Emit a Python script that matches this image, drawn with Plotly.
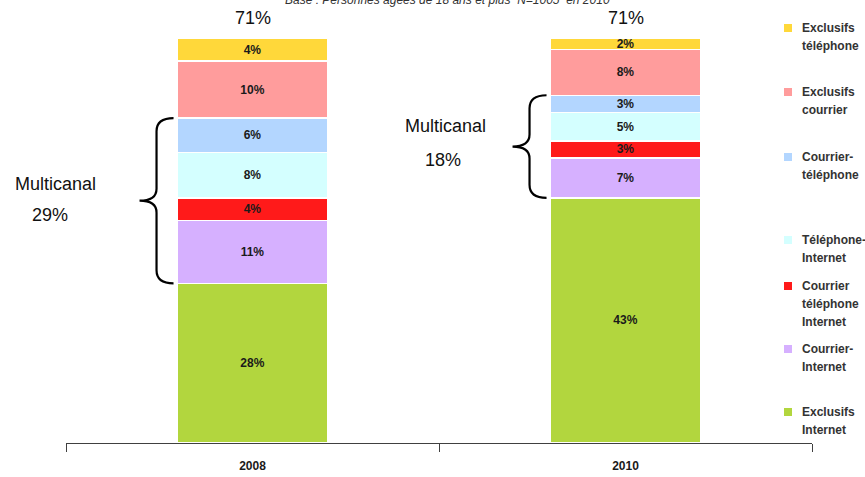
import plotly.graph_objects as go

years = ["2008", "2010"]
series_names = [
    "Exclusifs\nInternet",
    "Courrier-\nInternet",
    "Courrier\ntéléphone\nInternet",
    "Téléphone-\nInternet",
    "Courrier-\ntéléphone",
    "Exclusifs\ncourrier",
    "Exclusifs\ntéléphone",
]
exclusifs_internet = [28, 43]
courrier_internet = [11, 7]
courrier_tel_internet = [4, 3]
telephone_internet = [8, 5]
courrier_telephone = [6, 3]
exclusifs_courrier = [10, 8]
exclusifs_telephone = [4, 2]
series_values = [exclusifs_internet, courrier_internet, courrier_tel_internet,
                 telephone_internet, courrier_telephone, exclusifs_courrier,
                 exclusifs_telephone]
colors = ["#B2D63E", "#D6B0FF", "#FF1A1A", "#D4FFFF", "#B3D6FF", "#FF9C9C", "#FFD83A"]
multicanal_idx = [1, 2, 3, 4]
subtitle = "Base : Personnes âgées de 18 ans et plus  N=1005  en 2010"

BAR_W = 0.402
YMAX = 74.2
sans = "Liberation Sans, Arial"

fig = go.Figure()
for name, vals, col in zip(series_names, series_values, colors):
    fig.add_trace(go.Bar(
        x=years, y=vals, name=name.replace("\n", " "), width=BAR_W,
        marker=dict(color=col, line=dict(color="white", width=1.5)),
        text=[f"<b>{v}%</b>" for v in vals], textposition="inside",
        insidetextanchor="middle", textangle=0,
        textfont=dict(family=sans, size=12, color="#1a1a1a"),
        showlegend=False, hoverinfo="skip",
    ))

totals = [sum(s[i] for s in series_values) for i in range(len(years))]
annotations = []
for i, yr in enumerate(years):
    annotations.append(dict(x=i, y=totals[i], xref="x", yref="y", text=f"{totals[i]}%",
                            showarrow=False, xanchor="center", yanchor="middle", yshift=20,
                            font=dict(family=sans, size=18, color="#111")))

# Multicanal braces and labels
shapes = []
brace_label_pos = [(55, 184, 50, 215), (445, 126, 443, 160)]
for i, yr in enumerate(years):
    bottom = sum(series_values[k][i] for k in range(multicanal_idx[0]))
    mult = sum(series_values[k][i] for k in multicanal_idx)
    top = bottom + mult
    mid = (bottom + top) / 2
    r_end, r_mid = 2.3, 2.1
    tip, vert, point = -4, -21, -38
    path = (f"M {tip},{top} Q {vert},{top} {vert},{top - r_end} "
            f"L {vert},{mid + r_mid} Q {vert},{mid} {point},{mid} "
            f"Q {vert},{mid} {vert},{mid - r_mid} "
            f"L {vert},{bottom + r_end} Q {vert},{bottom} {tip},{bottom}")
    shapes.append(dict(type="path", xref="x", yref="y", xsizemode="pixel",
                       xanchor=i - BAR_W / 2, path=path,
                       line=dict(color="black", width=2.2)))
    lx1, ly1, lx2, ly2 = brace_label_pos[i]
    annotations.append(dict(x=(lx1 - 66) / 746, y=(443 - ly1) / 423, xref="paper", yref="paper",
                            text="Multicanal", showarrow=False, xanchor="center", yanchor="middle",
                            font=dict(family=sans, size=18, color="#111")))
    annotations.append(dict(x=(lx2 - 66) / 746, y=(443 - ly2) / 423, xref="paper", yref="paper",
                            text=f"{mult}%", showarrow=False, xanchor="center", yanchor="middle",
                            font=dict(family=sans, size=18, color="#111")))

# legend (manual, top to bottom)
legend_y = [28, 92, 157, 240, 286, 349, 412]
for (name, col), py in zip(list(zip(series_names, colors))[::-1], legend_y):
    lines = name.split("\n")
    for j, line in enumerate(lines):
        annotations.append(dict(x=(800 - 66) / 746, y=(443 - py) / 423, xref="paper", yref="paper",
                                text=f"<b>{line}</b>", showarrow=False, xanchor="left",
                                yanchor="middle", yshift=-18 * j,
                                font=dict(family=sans, size=12, color="#333")))
    cy = (443 - py) / 423
    shapes.append(dict(type="rect", xref="paper", yref="paper",
                       x0=(784 - 66) / 746, x1=(792 - 66) / 746,
                       y0=cy - 4 / 423, y1=cy + 4 / 423,
                       fillcolor=col, line=dict(width=0)))

annotations.append(dict(x=(447 - 66) / 746, y=1, xref="paper", yref="paper", text=f"<i>{subtitle}</i>",
                        showarrow=False, xanchor="center", yanchor="middle", yshift=20,
                        font=dict(family=sans, size=12, color="#333")))

fig.update_layout(
    barmode="stack",
    width=865, height=477,
    margin=dict(l=66, r=53, t=20, b=34),
    paper_bgcolor="white", plot_bgcolor="white",
    uniformtext=dict(mode="show", minsize=12),
    xaxis=dict(type="category", tickson="boundaries", ticks="outside", ticklen=8,
               tickcolor="#404040", showline=True, linecolor="#404040", linewidth=1,
               showgrid=False, range=[-0.5, 1.5], ticklabelstandoff=12, automargin=False,
               tickfont=dict(family=sans, size=12, color="#1a1a1a"),
               tickprefix="<b>", ticksuffix="</b>"),
    yaxis=dict(range=[0, YMAX], visible=False, showgrid=False, automargin=False),
    annotations=annotations,
    shapes=shapes,
)

fig.write_html("out.html", post_script="document.body.style.margin='0';",
               config={"displayModeBar": False})
